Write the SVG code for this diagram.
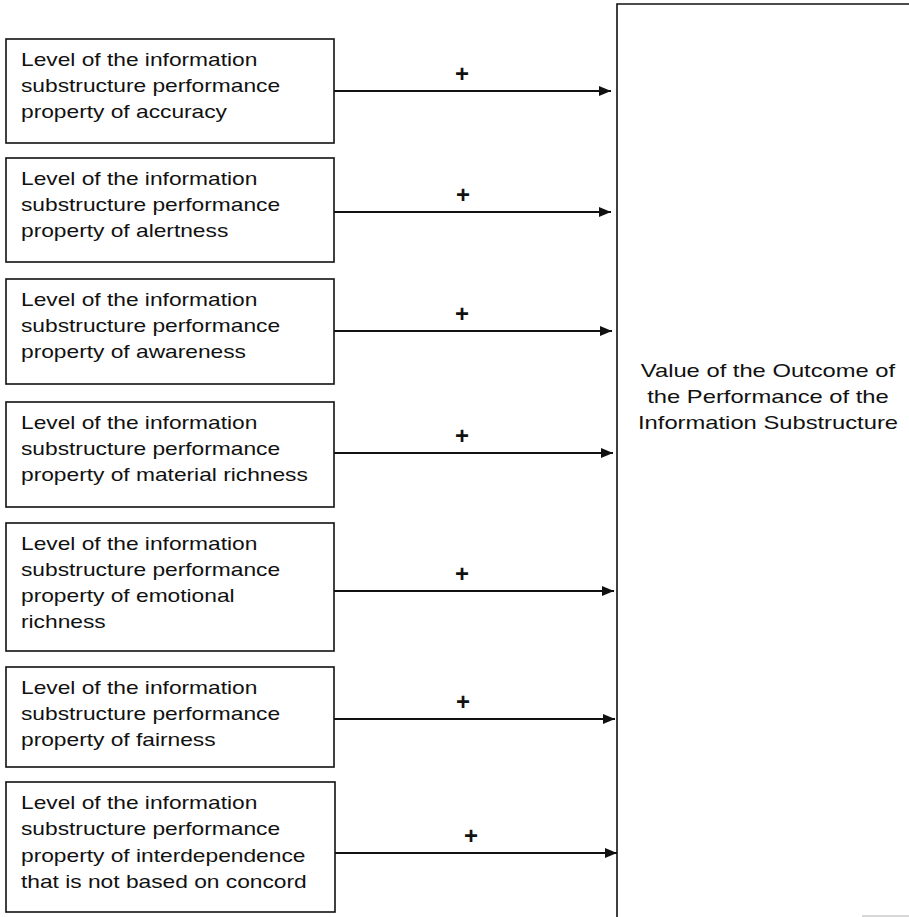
<svg xmlns="http://www.w3.org/2000/svg" width="909" height="917" viewBox="0 0 909 917">
  <style>
    .box { fill: #ffffff; stroke: #111111; stroke-width: 1.6; }
    .label { font-family: "Liberation Sans", Arial, sans-serif; font-size: 18.5px; fill: #111111; }
    .outcome { font-family: "Liberation Sans", Arial, sans-serif; font-size: 19px; fill: #111111; text-anchor: middle; }
    .link { stroke: #111111; stroke-width: 2; fill: none; marker-end: url(#arrow); }
    .sign { font-family: "Liberation Sans", Arial, sans-serif; font-size: 24px; font-weight: bold; fill: #111111; text-anchor: middle; }
  </style>
  <defs>
    <marker id="arrow" viewBox="0 0 12 10" refX="12" refY="5" markerWidth="12" markerHeight="10" markerUnits="userSpaceOnUse" orient="auto">
      <path d="M0,0 L12,5 L0,10 Z" fill="#111111"/>
    </marker>
  </defs>
  <rect width="909" height="917" fill="#ffffff"/>

  <!-- outcome node -->
  <g id="outcome-value">
    <path d="M617,917 L617,4 L909,4" fill="none" stroke="#111111" stroke-width="1.6"/>
    <line x1="862" y1="916" x2="909" y2="916" stroke="#b0b0b0" stroke-width="1.2"/>
    <g transform="translate(768,0) scale(1.25,1)">
      <text class="outcome" x="0" y="377">Value of the Outcome of</text>
      <text class="outcome" x="0" y="403">the Performance of the</text>
      <text class="outcome" x="0" y="429">Information Substructure</text>
    </g>
  </g>

  <!-- property nodes -->
  <g id="accuracy">
    <rect class="box" x="6" y="39" width="328" height="104"/>
    <g transform="translate(21,0) scale(1.23,1)">
      <text class="label" x="0" y="66">Level of the information</text>
      <text class="label" x="0" y="92">substructure performance</text>
      <text class="label" x="0" y="118">property of accuracy</text>
    </g>
  </g>

  <g id="alertness">
    <rect class="box" x="6" y="158" width="328" height="104"/>
    <g transform="translate(21,0) scale(1.23,1)">
      <text class="label" x="0" y="185">Level of the information</text>
      <text class="label" x="0" y="211">substructure performance</text>
      <text class="label" x="0" y="237">property of alertness</text>
    </g>
  </g>

  <g id="awareness">
    <rect class="box" x="6" y="279" width="328" height="105"/>
    <g transform="translate(21,0) scale(1.23,1)">
      <text class="label" x="0" y="306">Level of the information</text>
      <text class="label" x="0" y="332">substructure performance</text>
      <text class="label" x="0" y="358">property of awareness</text>
    </g>
  </g>

  <g id="material-richness">
    <rect class="box" x="6" y="402" width="328" height="105"/>
    <g transform="translate(21,0) scale(1.23,1)">
      <text class="label" x="0" y="429">Level of the information</text>
      <text class="label" x="0" y="455">substructure performance</text>
      <text class="label" x="0" y="481">property of material richness</text>
    </g>
  </g>

  <g id="emotional-richness">
    <rect class="box" x="6" y="523" width="328" height="128"/>
    <g transform="translate(21,0) scale(1.23,1)">
      <text class="label" x="0" y="550">Level of the information</text>
      <text class="label" x="0" y="576">substructure performance</text>
      <text class="label" x="0" y="602">property of emotional</text>
      <text class="label" x="0" y="628">richness</text>
    </g>
  </g>

  <g id="fairness">
    <rect class="box" x="6" y="667" width="328" height="100"/>
    <g transform="translate(21,0) scale(1.23,1)">
      <text class="label" x="0" y="694">Level of the information</text>
      <text class="label" x="0" y="720">substructure performance</text>
      <text class="label" x="0" y="746">property of fairness</text>
    </g>
  </g>

  <g id="interdependence">
    <rect class="box" x="6" y="782" width="329" height="130"/>
    <g transform="translate(21,0) scale(1.23,1)">
      <text class="label" x="0" y="809">Level of the information</text>
      <text class="label" x="0" y="835">substructure performance</text>
      <text class="label" x="0" y="862">property of interdependence</text>
      <text class="label" x="0" y="888">that is not based on concord</text>
    </g>
  </g>

  <!-- positive influences -->
  <g id="connectors">
    <line class="link" x1="334" y1="91" x2="611" y2="91"/>
    <text class="sign" x="462" y="82">+</text>
    <line class="link" x1="334" y1="212" x2="611" y2="212"/>
    <text class="sign" x="463" y="203">+</text>
    <line class="link" x1="334" y1="331" x2="612" y2="331"/>
    <text class="sign" x="462" y="322">+</text>
    <line class="link" x1="334" y1="453" x2="613" y2="453"/>
    <text class="sign" x="462" y="444">+</text>
    <line class="link" x1="334" y1="591" x2="614" y2="591"/>
    <text class="sign" x="462" y="582">+</text>
    <line class="link" x1="334" y1="719" x2="615" y2="719"/>
    <text class="sign" x="463" y="710">+</text>
    <line class="link" x1="335" y1="853" x2="617" y2="853"/>
    <text class="sign" x="471" y="844">+</text>
  </g>
</svg>
